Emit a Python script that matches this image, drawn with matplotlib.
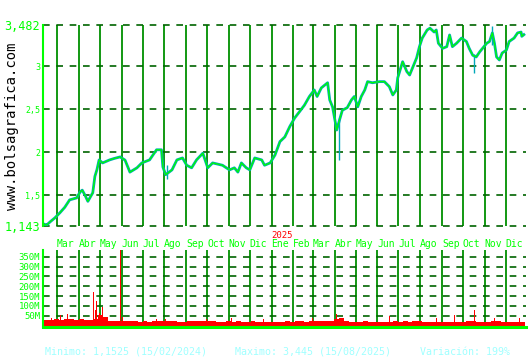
import matplotlib

matplotlib.use("Agg")
import matplotlib.pyplot as plt
import matplotlib.transforms as mtransforms
import pandas as pd

# price path (close, approx.)
price_dates = [
    "2024-02-10", "2024-02-13", "2024-02-15", "2024-02-20", "2024-02-27", "2024-03-05",
    "2024-03-12", "2024-03-19", "2024-03-29", "2024-04-03", "2024-04-06", "2024-04-10",
    "2024-04-14", "2024-04-21", "2024-04-24", "2024-04-27", "2024-04-30", "2024-05-05",
    "2024-05-15", "2024-05-22", "2024-05-30", "2024-06-06", "2024-06-13", "2024-06-23",
    "2024-06-30", "2024-07-11", "2024-07-21", "2024-07-28", "2024-07-30", "2024-08-03",
    "2024-08-12", "2024-08-19", "2024-08-27", "2024-09-02", "2024-09-09", "2024-09-16",
    "2024-09-25", "2024-10-02", "2024-10-09", "2024-10-23", "2024-11-02", "2024-11-09",
    "2024-11-14", "2024-11-19", "2024-11-26", "2024-12-01", "2024-12-08", "2024-12-18",
    "2024-12-22", "2024-12-30", "2025-01-06", "2025-01-13", "2025-01-20", "2025-01-27",
    "2025-02-03", "2025-02-10", "2025-02-17", "2025-02-24", "2025-03-03", "2025-03-07",
    "2025-03-13", "2025-03-22", "2025-03-25", "2025-03-29", "2025-04-04", "2025-04-08",
    "2025-04-12", "2025-04-19", "2025-04-25", "2025-04-29", "2025-05-04", "2025-05-09",
    "2025-05-14", "2025-05-18", "2025-05-25", "2025-06-04", "2025-06-11", "2025-06-18",
    "2025-06-23", "2025-06-28", "2025-06-30", "2025-07-07", "2025-07-13", "2025-07-17",
    "2025-07-21", "2025-07-27", "2025-07-31", "2025-08-04", "2025-08-11", "2025-08-15",
    "2025-08-21", "2025-08-24", "2025-08-27", "2025-09-02", "2025-09-08", "2025-09-12",
    "2025-09-16", "2025-09-22", "2025-09-29", "2025-10-06", "2025-10-10", "2025-10-15",
    "2025-10-20", "2025-10-25", "2025-10-29", "2025-11-04", "2025-11-08", "2025-11-12",
    "2025-11-15", "2025-11-18", "2025-11-22", "2025-11-26", "2025-12-02", "2025-12-06",
    "2025-12-13", "2025-12-18", "2025-12-23", "2025-12-24", "2025-12-27",
]
price_vals = [
    1.17, 1.16, 1.1525, 1.19, 1.238, 1.296,
    1.36, 1.447, 1.47, 1.54, 1.56, 1.50,
    1.43, 1.53, 1.72, 1.80, 1.912, 1.877,
    1.912, 1.93, 1.947, 1.91, 1.77, 1.82,
    1.877, 1.912, 2.03, 2.03, 1.83, 1.74,
    1.796, 1.912, 1.935, 1.85, 1.82, 1.912,
    1.99, 1.82, 1.877, 1.85, 1.796, 1.82,
    1.77, 1.877, 1.82, 1.796, 1.935, 1.912,
    1.85, 1.877, 1.97, 2.125, 2.18, 2.30,
    2.40, 2.474, 2.55, 2.65, 2.726, 2.65,
    2.75, 2.81, 2.61, 2.53, 2.26, 2.377,
    2.49, 2.52, 2.61, 2.65, 2.53, 2.65,
    2.726, 2.823, 2.81, 2.823, 2.823, 2.765,
    2.668, 2.726, 2.866, 3.055, 2.94, 2.90,
    2.98, 3.10, 3.23, 3.33, 3.424, 3.445,
    3.40, 3.424, 3.27, 3.21, 3.23, 3.366,
    3.23, 3.27, 3.33, 3.29, 3.21, 3.13,
    3.11, 3.17, 3.21, 3.27, 3.29, 3.39,
    3.27, 3.11, 3.075, 3.156, 3.19, 3.29,
    3.33, 3.39, 3.40, 3.35, 3.37,
]

# a few long intraday wicks
wick_dates = ["2024-08-05", "2025-04-07", "2025-10-17", "2025-11-12"]
wick_lows = [1.69, 1.91, 2.92, 3.25]
wick_highs = [1.85, 2.40, 3.15, 3.47]

# volume, millions: weekly level + single-day spikes
vol_week_start = "2024-02-12"
vol_weekly = [
    28, 30, 32, 30, 34, 32, 30, 33, 30, 28, 33, 55, 45, 26, 24, 22, 25, 22, 21, 20,
    21, 20, 22, 22, 24, 25, 21, 20, 20, 21, 22, 23, 21, 22, 21, 20, 20, 21, 20, 21,
    19, 20, 21, 20, 19, 16, 17, 19, 20, 21, 20, 22, 21, 20, 22, 24, 22, 21, 24, 32,
    38, 24, 20, 19, 20, 21, 19, 18, 18, 19, 20, 21, 20, 22, 20, 21, 22, 20, 19, 18,
    19, 18, 19, 20, 19, 18, 21, 22, 20, 19, 18, 24, 22, 18, 19, 20, 18, 19,
]
spike_dates = [
    "2024-02-22", "2024-03-06", "2024-03-16", "2024-04-22", "2024-04-25", "2024-04-27",
    "2024-05-01", "2024-05-05", "2024-05-30", "2024-06-03", "2024-07-21", "2024-08-03",
    "2024-09-30", "2024-11-05", "2024-12-21", "2025-03-01", "2025-04-03", "2025-04-04",
    "2025-06-18", "2025-08-24", "2025-09-19", "2025-10-18", "2025-11-15", "2025-12-21",
]
spike_vals = [
    38, 52, 60, 172, 80, 126,
    65, 97, 390, 45, 35, 35,
    32, 40, 33, 37, 45, 60,
    50, 37, 52, 77, 40, 40,
]

month_starts = [
    "2024-03-01", "2024-04-01", "2024-05-01", "2024-06-01", "2024-07-01", "2024-08-01",
    "2024-09-01", "2024-10-01", "2024-11-01", "2024-12-01", "2025-01-01", "2025-02-01",
    "2025-03-01", "2025-04-01", "2025-05-01", "2025-06-01", "2025-07-01", "2025-08-01",
    "2025-09-01", "2025-10-01", "2025-11-01", "2025-12-01",
]
month_labels = [
    "Mar", "Abr", "May", "Jun", "Jul", "Ago", "Sep", "Oct", "Nov", "Dic", "Ene", "Feb",
    "Mar", "Abr", "May", "Jun", "Jul", "Ago", "Sep", "Oct", "Nov", "Dic",
]
price_ticks = [1.143, 1.5, 2, 2.5, 3, 3.482]
price_tick_labels = ["1,143", "1,5", "2", "2,5", "3", "3,482"]
vol_ticks = [50, 100, 150, 200, 250, 300, 350]
vol_tick_labels = ["50M", "100M", "150M", "200M", "250M", "300M", "350M"]

LIME = "#00ff00"
GRID_V = "#009000"
GRID_H = "#006400"
TEAL = "#00a8b8"
RED = "#ff0000"
INFO = "#a0ffff"
MONO = "DejaVu Sans Mono"

x0, x1 = pd.Timestamp("2024-02-10"), pd.Timestamp("2025-12-30")
months = pd.to_datetime(month_starts)

fig = plt.figure(figsize=(5.3, 3.6), dpi=100)
ax = fig.add_axes([43 / 530, 1 - 226 / 360, 483 / 530, 201 / 360])
axv = fig.add_axes([43 / 530, 1 - 327 / 360, 483 / 530, 77 / 360])

for a in (ax, axv):
    a.set_xlim(x0, x1)
    a.set_xticks([])
    for s in ("top", "right", "bottom"):
        a.spines[s].set_visible(False)
    a.spines["left"].set_color(LIME)
    a.spines["left"].set_linewidth(1.5)
    a.tick_params(axis="y", length=0, pad=2, colors=LIME)
    for m in months:
        a.axvline(m, color=GRID_V, lw=1.3, zorder=1)

# price panel
ax.set_ylim(price_ticks[0], price_ticks[-1])
ax.set_yticks(price_ticks)
ax.set_yticklabels(price_tick_labels, family=MONO)
for lbl, t in zip(ax.get_yticklabels(), price_ticks):
    lbl.set_fontsize(8.5 if t in (price_ticks[0], price_ticks[-1]) else 6)
for t in price_ticks:
    ax.axhline(t, color=GRID_H, lw=1.2, ls=(0, (4, 4)), zorder=1, clip_on=False)

pd_dates = pd.to_datetime(price_dates)
ax.vlines(pd.to_datetime(wick_dates), wick_lows, wick_highs, color=TEAL, lw=1.0, zorder=2)
ax.plot(pd_dates, price_vals, color=TEAL, lw=2.0, zorder=2)
ax.plot(pd_dates, price_vals, color=LIME, lw=0.9, zorder=3)

# month labels between the panels
trans = mtransforms.blended_transform_factory(ax.transData, fig.transFigure)
for m, lab in zip(months, month_labels):
    ax.text(m, 1 - 244 / 360, lab, transform=trans, color=LIME, family=MONO,
            fontsize=7, ha="left", va="center")
ax.text(pd.Timestamp("2025-01-01"), 1 - 236 / 360, "2025", transform=trans, color=RED,
        family=MONO, fontsize=6.5, ha="left", va="center")

# volume panel
axv.set_ylim(-7, 384)
axv.set_yticks(vol_ticks)
axv.set_yticklabels(vol_tick_labels, family=MONO, fontsize=6.5)
for t in vol_ticks:
    axv.axhline(t, color=GRID_H, lw=1.2, ls=(0, (4, 4)), zorder=1)
week_dates = pd.date_range(vol_week_start, periods=len(vol_weekly), freq="7D")
axv.bar(week_dates, vol_weekly, width=7, align="edge", color=RED, lw=0, zorder=2)
axv.bar(pd.to_datetime(spike_dates), spike_vals, width=1.4, color=RED, lw=0, zorder=2)
axv.spines["bottom"].set_visible(True)
axv.spines["bottom"].set_color(LIME)
axv.spines["bottom"].set_linewidth(2.2)

# watermark and footer
fig.text(12 / 530, 1 - 126 / 360, "www.bolsagrafica.com", rotation=90, color="black",
         family=MONO, fontsize=10, ha="center", va="center")
footer = [
    (45, "Minimo: 1,1525 (15/02/2024)"),
    (235, "Maximo: 3,445 (15/08/2025)"),
    (420, "Variación: 199%"),
]
for px, txt in footer:
    fig.text(px / 530, 1 - 352 / 360, txt, color=INFO, family=MONO, fontsize=7.2,
             ha="left", va="center")

fig.savefig("out.png", dpi=100)
plt.close(fig)
